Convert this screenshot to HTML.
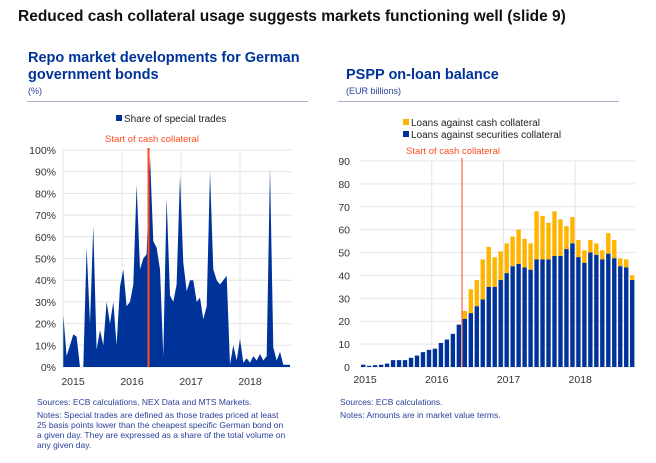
<!DOCTYPE html>
<html><head><meta charset="utf-8">
<style>
body{margin:0;width:656px;height:463px;background:#fff;font-family:"Liberation Sans",sans-serif;position:relative;overflow:hidden}
.t{position:absolute;white-space:nowrap}
.h{font-weight:bold;color:#003399;font-size:14.5px}
.s{font-size:9px;color:#2a3f9a}
.n{font-size:8.5px;color:#2a3f9a;line-height:10px}
.sep{position:absolute;height:1px;background:#a8b0cc;top:101px}
svg{position:absolute;left:0;top:0}
</style></head><body>
<div class="t" style="left:18px;top:8px;font-size:15.5px;font-weight:bold;color:#111">Reduced cash collateral usage suggests markets functioning well (slide 9)</div>
<div class="t h" style="left:28px;top:50px;line-height:17px">Repo market developments for German<br>government bonds</div>
<div class="t s" style="left:28px;top:86px">(%)</div>
<div class="sep" style="left:27px;width:281px"></div>
<div class="t h" style="left:346px;top:67px">PSPP on-loan balance</div>
<div class="t s" style="left:346px;top:86px">(EUR billions)</div>
<div class="sep" style="left:338px;width:281px"></div>
<div class="t n" style="left:37px;top:397px">Sources: ECB calculations, NEX Data and MTS Markets.<br><span style="display:block;margin-top:3px">Notes: Special trades are defined as those trades priced at least<br>25 basis points lower than the cheapest specific German bond on<br>a given day. They are expressed as a share of the total volume on<br>any given day.</span></div>
<div class="t n" style="left:340px;top:397px">Sources: ECB calculations.<br><span style="display:block;margin-top:3px">Notes: Amounts are in market value terms.</span></div>
<svg id="c" width="656" height="463"></svg>
<script>
const leftValues=[24,5,10,15,14,0,0,55,20,65,8,17,10,30,20,30,10,37,45,28,30,38,84,45,50,52,97,58,55,45,5,78,33,30,38,88,48,35,40,40,30,32,22,28,90,45,40,38,40,42,1,10,3,13,2,4,2,5,3,6,3,5,92,9,3,7,1,1,1];
const leftTicks=["0%","10%","20%","30%","40%","50%","60%","70%","80%","90%","100%"];
const leftYears=["2015","2016","2017","2018"];
const blueValues=[1,0.5,0.8,1,1.5,3,3,3,4,5,6.5,7.5,8,10.5,12,14.5,18.5,21,23.5,26.5,29.5,35,35,38,41,44,45,43.5,42.5,47,47,47,48.5,48.5,51.5,54,48,45.5,50,49,47,49.5,47.5,44,43.5,38];
const totalValues=[1,0.5,0.8,1,1.5,3,3,3,4,5,6.5,7.5,8,10.5,12,14.5,18.5,24.5,34,38,47,52.5,48,50.5,54,57,60,56,54,68,66,63,68,64.5,61.5,65.5,55.5,51,55.5,54,51,58.5,55.5,47.5,47,40];
const rightTicks=[0,10,20,30,40,50,60,70,80,90];
const rightYears=["2015","2016","2017","2018"];
const svg=document.getElementById('c');const NS='http://www.w3.org/2000/svg';
function E(t,a,txt){const e=document.createElementNS(NS,t);for(const k in a)e.setAttribute(k,a[k]);if(txt!==undefined)e.textContent=txt;svg.appendChild(e);return e;}
const lx0=63,lx1=292,ly0=367,ly1=150;
const dx0=63.3,dx1=290;
const ly=v=>ly0-(v/100)*(ly0-ly1);
const lx=i=>dx0+i*(dx1-dx0)/(leftValues.length-1);
leftTicks.forEach((t,i)=>{const v=i*10;let g=E('line',{x1:lx0,x2:lx1,y1:ly(v),y2:ly(v),stroke:'#e4e4e4'});
let tx=E('text',{x:lx0-7,y:ly(v)+4,'text-anchor':'end','font-size':'10.5',fill:'#333'},t);});
leftYears.forEach((y,i)=>{const x=lx0+i*59;let g=E('line',{x1:x,x2:x,y1:ly1,y2:ly0,stroke:'#e4e4e4'});
let tx=E('text',{x:x+10,y:385,'text-anchor':'middle','font-size':'10.5',fill:'#333'},y);});
let d='M'+lx(0)+','+ly0;leftValues.forEach((v,i)=>d+=' L'+lx(i).toFixed(1)+','+ly(v).toFixed(1));d+=' L'+lx(leftValues.length-1)+','+ly0+'Z';
let ar=E('path',{d:d,fill:'#003399'});
let rl=E('line',{x1:148.5,x2:148.5,y1:148,y2:ly0,stroke:'#ff4b1f','stroke-width':2});
let rt=E('text',{x:105,y:142,'font-size':'9.5',fill:'#ff4b1f'},'Start of cash collateral');
let lg=E('rect',{x:116,y:115,width:6,height:6,fill:'#003399'});
let lgt=E('text',{x:124,y:122,'font-size':'10',fill:'#222'},'Share of special trades');
const rx0=360,rx1=635,ry0=367,ry1=161;
const ry=v=>ry0-(v/90)*(ry0-ry1);
const bw=(rx1-rx0)/blueValues.length;
rightTicks.forEach(v=>{let g=E('line',{x1:rx0,x2:rx1,y1:ry(v),y2:ry(v),stroke:'#e4e4e4'});
let tx=E('text',{x:rx0-10,y:ry(v)+4,'text-anchor':'end','font-size':'10.5',fill:'#333'},v);});
rightYears.forEach((y,i)=>{const x=rx0+i*12*bw;if(i>0){let g=E('line',{x1:x,x2:x,y1:ry1,y2:ry0,stroke:'#e4e4e4'});}
let tx=E('text',{x:x+5,y:383,'text-anchor':'middle','font-size':'10.5',fill:'#333'},y);});
blueValues.forEach((b,i)=>{const x=rx0+i*bw+1;const t=totalValues[i];
if(t>b){let o=E('rect',{x:x,y:ry(t),width:bw-1.6,height:ry(b)-ry(t),fill:'#ffb400'});}
let r=E('rect',{x:x,y:ry(b),width:bw-1.6,height:ry0-ry(b),fill:'#003399'});});
let rl2=E('line',{x1:462,x2:462,y1:158,y2:ry0,stroke:'#ff4b1f','stroke-width':1});
let rt2=E('text',{x:406,y:154,'font-size':'9.5',fill:'#ff4b1f'},'Start of cash collateral');
let s1=E('rect',{x:403,y:119,width:6,height:6,fill:'#ffb400'});
let t1=E('text',{x:411,y:126,'font-size':'10',fill:'#222'},'Loans against cash collateral');
let s2=E('rect',{x:403,y:131,width:6,height:6,fill:'#003399'});
let t2=E('text',{x:411,y:138,'font-size':'10',fill:'#222'},'Loans against securities collateral');
</script>
</body></html>
